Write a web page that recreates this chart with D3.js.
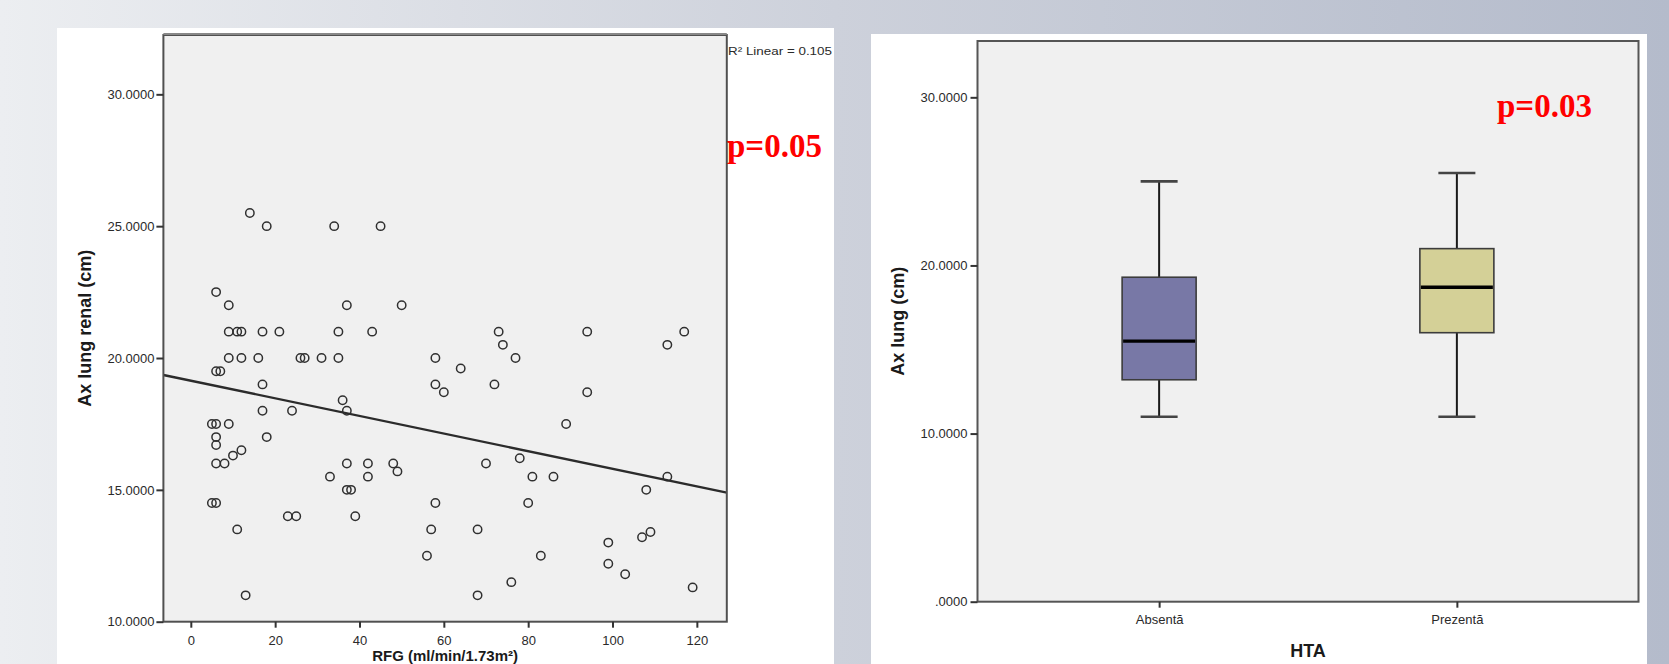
<!DOCTYPE html>
<html><head><meta charset="utf-8">
<script src="https://cdn.jsdelivr.net/npm/d3@7/dist/d3.min.js"></script>
<style>html,body{margin:0;padding:0;overflow:hidden;background:#fff;}</style>
</head><body>
<svg id="c" width="1669" height="664" xmlns="http://www.w3.org/2000/svg"></svg>
<script>
// ---------- DATA ----------
// Scatter: RFG (x) vs Ax lung renal (y)
const rfg = [
  14,
  18, 34, 45,
  6,
  9, 37, 50,
  9, 11, 12, 17, 21, 35, 43, 73, 94, 117,
  74, 113,
  9, 12, 16, 26, 27, 31, 35, 58, 77,
  64,
  6, 7,
  17, 58, 72,
  60, 94,
  36,
  17, 24, 37,
  5, 6, 9, 89,
  6, 18,
  6,
  12,
  10,
  78,
  6, 8, 37, 42, 48, 70,
  49,
  33, 42, 81, 86, 113,
  37, 38, 108,
  5, 6, 58, 80,
  23, 25, 39,
  11, 57, 68,
  109,
  107,
  99,
  56, 83,
  99,
  103,
  76,
  119,
  13, 68
];
const axLung = [
  25.5,
  25, 25, 25,
  22.5,
  22, 22, 22,
  21, 21, 21, 21, 21, 21, 21, 21, 21, 21,
  20.5, 20.5,
  20, 20, 20, 20, 20, 20, 20, 20, 20,
  19.6,
  19.5, 19.5,
  19, 19, 19,
  18.7, 18.7,
  18.4,
  18, 18, 18,
  17.5, 17.5, 17.5, 17.5,
  17, 17,
  16.7,
  16.5,
  16.3,
  16.2,
  16, 16, 16, 16, 16, 16,
  15.7,
  15.5, 15.5, 15.5, 15.5, 15.5,
  15, 15, 15,
  14.5, 14.5, 14.5, 14.5,
  14, 14, 14,
  13.5, 13.5, 13.5,
  13.4,
  13.2,
  13,
  12.5, 12.5,
  12.2,
  11.8,
  11.5,
  11.3,
  11, 11
];
const scatterXTicks = [0, 20, 40, 60, 80, 100, 120];
const scatterYTicks = [10, 15, 20, 25, 30];
const fitCoefficients = [19.14, -0.0334];   // intercept, slope of linear fit
const scatterXTitle = "RFG (ml/min/1.73m²)";
const scatterYTitle = "Ax lung renal (cm)";
const r2Label = "R² Linear = 0.105";
const pScatter = "p=0.05";

// Box plot: Ax lung by HTA
const htaCategories = ["Absentă", "Prezentă"];
const whiskerLow  = [11.0, 11.0];
const q1          = [13.2, 16.0];
const median      = [15.5, 18.7];
const q3          = [19.3, 21.0];
const whiskerHigh = [25.0, 25.5];
const boxYTicks = [0, 10, 20, 30];
const boxXTitle = "HTA";
const boxYTitle = "Ax lung (cm)";
const pBox = "p=0.03";

// ---------- DRAW ----------
const svg = d3.select("#c");
const defs = svg.append("defs");
const grad = defs.append("linearGradient").attr("id", "bg").attr("x1", "0").attr("x2", "1").attr("y1", "0").attr("y2", "0");
grad.append("stop").attr("offset", "0").attr("stop-color", "#eceef1");
grad.append("stop").attr("offset", "0.5").attr("stop-color", "#cdd1db");
grad.append("stop").attr("offset", "1").attr("stop-color", "#b4bbcb");
svg.append("rect").attr("width", 1669).attr("height", 664).attr("fill", "url(#bg)");

const tickFont = "'Liberation Sans', Arial, sans-serif";
const fmt4 = d => d3.format(".4f")(d).replace(/^0\./, ".");

function styleAxis(g) {
  g.select(".domain").remove();
  g.selectAll(".tick line").attr("stroke", "#333").attr("stroke-width", 2);
  g.selectAll(".tick text").attr("fill", "#2a2a2a").attr("font-family", tickFont).attr("font-size", 13);
}

// ===== Left panel: scatter =====
defs.append("clipPath").attr("id", "leftPanelClip").append("rect")
  .attr("x", 57).attr("y", 28).attr("width", 777).attr("height", 636);
svg.append("rect").attr("x", 57).attr("y", 28).attr("width", 777).attr("height", 636).attr("fill", "#ffffff");

const L = {x0: 163.4, x1: 726.8, y0: 35, y1: 621.7};
const xS = d3.scaleLinear().domain([-6.5, 127.1]).range([L.x0, L.x1]);
const yS = d3.scaleLinear().domain([10, 32.25]).range([L.y1, L.y0]);

svg.append("rect").attr("x", L.x0).attr("y", L.y0).attr("width", L.x1 - L.x0).attr("height", L.y1 - L.y0)
  .attr("fill", "#f0f0f0");

defs.append("clipPath").attr("id", "leftPlotClip").append("rect")
  .attr("x", L.x0).attr("y", L.y0).attr("width", L.x1 - L.x0).attr("height", L.y1 - L.y0);

const pts = rfg.map((x, i) => ({x, y: axLung[i]}));
svg.append("g").attr("clip-path", "url(#leftPlotClip)")
  .selectAll("circle").data(pts).join("circle")
  .attr("cx", d => xS(d.x)).attr("cy", d => yS(d.y)).attr("r", 4.2)
  .attr("fill", "none").attr("stroke", "#303030").attr("stroke-width", 1.5);

const fitLine = d3.line().x(d => xS(d)).y(d => yS(fitCoefficients[0] + fitCoefficients[1] * d));
svg.append("path").attr("clip-path", "url(#leftPlotClip)")
  .datum(xS.domain()).attr("d", fitLine)
  .attr("fill", "none").attr("stroke", "#2b2b2b").attr("stroke-width", 2.4);

svg.append("rect").attr("x", L.x0).attr("y", L.y0).attr("width", L.x1 - L.x0).attr("height", L.y1 - L.y0)
  .attr("fill", "none").attr("stroke", "#505050").attr("stroke-width", 2);
svg.append("line").attr("x1", L.x0).attr("x2", L.x1).attr("y1", L.y0 - 1).attr("y2", L.y0 - 1)
  .attr("stroke", "#888").attr("stroke-width", 2);

svg.append("g").attr("transform", `translate(${L.x0},0)`)
  .call(d3.axisLeft(yS).tickValues(scatterYTicks).tickFormat(fmt4).tickSize(7).tickPadding(2))
  .call(styleAxis);
svg.append("g").attr("transform", `translate(0,${L.y1})`)
  .call(d3.axisBottom(xS).tickValues(scatterXTicks).tickFormat(d3.format("d")).tickSize(6).tickPadding(8))
  .call(styleAxis);

svg.append("text").attr("transform", `translate(85,${(L.y0 + L.y1) / 2}) rotate(-90)`)
  .attr("text-anchor", "middle").attr("dy", "0.35em")
  .attr("font-family", tickFont).attr("font-weight", "bold").attr("font-size", 18).attr("fill", "#1a1a1a")
  .text(scatterYTitle);
svg.append("text").attr("x", (L.x0 + L.x1) / 2).attr("y", 661)
  .attr("text-anchor", "middle")
  .attr("font-family", tickFont).attr("font-weight", "bold").attr("font-size", 15).attr("fill", "#1a1a1a")
  .text(scatterXTitle);

svg.append("g").attr("clip-path", "url(#leftPanelClip)").append("text")
  .attr("x", 728).attr("y", 55).attr("font-family", tickFont).attr("font-size", 11).attr("fill", "#2a2a2a")
  .attr("textLength", 104).attr("lengthAdjust", "spacingAndGlyphs")
  .text(r2Label);

svg.append("text").attr("x", 727).attr("y", 157)
  .attr("font-family", "'Liberation Serif', 'Times New Roman', serif").attr("font-weight", "bold")
  .attr("font-size", 33).attr("fill", "#ff0000").text(pScatter);

// ===== Right panel: box plot =====
svg.append("rect").attr("x", 871).attr("y", 34).attr("width", 776).attr("height", 630).attr("fill", "#ffffff");
const R = {x0: 977.5, x1: 1638.5, y0: 41, y1: 601.7};
const xB = d3.scalePoint().domain(htaCategories).range([R.x0, R.x1]).padding(0.61);
const yB = d3.scaleLinear().domain([0, 33.35]).range([R.y1, R.y0]);

svg.append("rect").attr("x", R.x0).attr("y", R.y0).attr("width", R.x1 - R.x0).attr("height", R.y1 - R.y0)
  .attr("fill", "#f0f0f0");

const boxColors = ["#7878a6", "#d4d097"];
const boxW = 74, capW = 37;
const boxes = htaCategories.map((c, i) => ({c, lo: whiskerLow[i], q1: q1[i], med: median[i], q3: q3[i], hi: whiskerHigh[i], col: boxColors[i]}));
const bg = svg.append("g").selectAll("g").data(boxes).join("g");
bg.append("line").attr("x1", d => xB(d.c)).attr("x2", d => xB(d.c))
  .attr("y1", d => yB(d.hi)).attr("y2", d => yB(d.q3)).attr("stroke", "#1a1a1a").attr("stroke-width", 2);
bg.append("line").attr("x1", d => xB(d.c)).attr("x2", d => xB(d.c))
  .attr("y1", d => yB(d.q1)).attr("y2", d => yB(d.lo)).attr("stroke", "#1a1a1a").attr("stroke-width", 2);
bg.append("line").attr("x1", d => xB(d.c) - capW / 2).attr("x2", d => xB(d.c) + capW / 2)
  .attr("y1", d => yB(d.hi)).attr("y2", d => yB(d.hi)).attr("stroke", "#444").attr("stroke-width", 2.6);
bg.append("line").attr("x1", d => xB(d.c) - capW / 2).attr("x2", d => xB(d.c) + capW / 2)
  .attr("y1", d => yB(d.lo)).attr("y2", d => yB(d.lo)).attr("stroke", "#444").attr("stroke-width", 2.6);
bg.append("rect").attr("x", d => xB(d.c) - boxW / 2).attr("width", boxW)
  .attr("y", d => yB(d.q3)).attr("height", d => yB(d.q1) - yB(d.q3))
  .attr("fill", d => d.col).attr("stroke", "#3c3c3c").attr("stroke-width", 1.6);
bg.append("line").attr("x1", d => xB(d.c) - boxW / 2 + 1).attr("x2", d => xB(d.c) + boxW / 2 - 1)
  .attr("y1", d => yB(d.med)).attr("y2", d => yB(d.med)).attr("stroke", "#000").attr("stroke-width", 3.4);

svg.append("rect").attr("x", R.x0).attr("y", R.y0).attr("width", R.x1 - R.x0).attr("height", R.y1 - R.y0)
  .attr("fill", "none").attr("stroke", "#555").attr("stroke-width", 2);

svg.append("g").attr("transform", `translate(${R.x0},0)`)
  .call(d3.axisLeft(yB).tickValues(boxYTicks).tickFormat(fmt4).tickSize(7).tickPadding(3))
  .call(styleAxis);
svg.append("g").attr("transform", `translate(0,${R.y1})`)
  .call(d3.axisBottom(xB).tickSize(6).tickPadding(7))
  .call(styleAxis);

svg.append("text").attr("transform", `translate(898,${(R.y0 + R.y1) / 2}) rotate(-90)`)
  .attr("text-anchor", "middle").attr("dy", "0.35em")
  .attr("font-family", tickFont).attr("font-weight", "bold").attr("font-size", 18).attr("fill", "#1a1a1a")
  .text(boxYTitle);
svg.append("text").attr("x", (R.x0 + R.x1) / 2).attr("y", 657)
  .attr("text-anchor", "middle")
  .attr("font-family", tickFont).attr("font-weight", "bold").attr("font-size", 18).attr("fill", "#1a1a1a")
  .text(boxXTitle);

svg.append("text").attr("x", 1497).attr("y", 117)
  .attr("font-family", "'Liberation Serif', 'Times New Roman', serif").attr("font-weight", "bold")
  .attr("font-size", 33).attr("fill", "#ff0000").text(pBox);
</script>
</body></html>
